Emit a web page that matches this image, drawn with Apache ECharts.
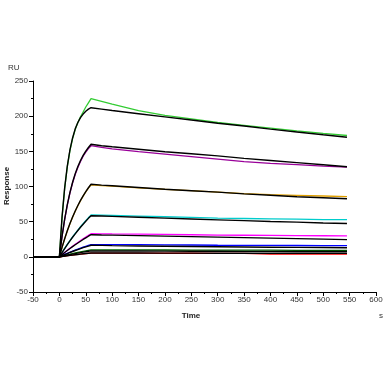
<!DOCTYPE html>
<html>
<head>
<meta charset="utf-8">
<script src="https://cdn.jsdelivr.net/npm/echarts@6/dist/echarts.min.js"></script>
<style>html,body{margin:0;padding:0;background:#fff}#c{width:386px;height:386px}</style>
</head>
<body>
<div id="c"></div>
<script>
// time points (s)
var times = [-50, 0, 5, 10, 15, 20, 25, 30, 35, 40, 45, 50, 55, 60, 80, 100, 150, 200, 250, 300, 350, 400, 450, 500, 545];

// measured curves (RU)
var dataGreen   = [0, 0, 55, 97, 128, 151, 168, 181, 191, 199, 206, 213, 219, 225, 221, 217, 208, 201, 196, 191, 187, 183, 179, 175.5, 172.5];
var dataPurple  = [0, 0, 29, 53, 73.5, 90.5, 105, 117, 127, 135.5, 143, 149, 154, 158, 155.5, 153.5, 149.5, 146, 142.5, 139, 135.5, 133, 131, 129, 127.5];
var dataOrange  = [0, 0, 13.2, 25.5, 36.6, 47, 56.2, 64.8, 72.6, 79.8, 86.4, 92.4, 97.6, 102.5, 101.2, 100.5, 98, 96, 94, 92, 90, 88.5, 87.5, 86.5, 85.5];
var dataCyan    = [0, 0, 6.1, 12, 17.7, 23.1, 28.3, 33.3, 38.1, 42.8, 47.2, 51.5, 55.6, 59.5, 59.3, 59, 58, 57, 56, 55, 54.5, 54, 53.5, 53, 53];
var dataMagenta = [0, 0, 3.2, 6.3, 9.3, 12.3, 15.1, 17.9, 20.5, 23.1, 25.7, 28.1, 30.5, 32.8, 32.7, 32.5, 32.2, 31.8, 31.4, 31, 30.7, 30.4, 30.2, 30, 29.8];
var dataBlue    = [0, 0, 1.7, 3.4, 5, 6.5, 8, 9.6, 11, 12.3, 13.7, 15, 16.3, 17.5, 17.5, 17.5, 17.3, 17, 16.8, 16.5, 16.4, 16.2, 16.1, 16, 16];
var dataDkGreen = [0, 0, 1, 1.9, 2.9, 3.7, 4.6, 5.5, 6.3, 7.1, 7.9, 8.6, 9.3, 10, 10, 9.9, 9.8, 9.7, 9.6, 9.5, 9.4, 9.4, 9.3, 9.2, 9.2];
var dataRed     = [0, 0, 0.5, 1.1, 1.6, 2.1, 2.5, 3, 3.4, 3.9, 4.3, 4.7, 5.1, 5.4, 5.4, 5.3, 5.2, 5.1, 5.1, 5.0, 5.0, 3.9, 3.9, 3.8, 3.8];

// fitted curves (RU)
var fit1 = [0, 0, 56.5, 98, 129, 152, 169, 182, 191, 198, 203, 207, 210, 212, 210, 208, 203.5, 199, 194.5, 190, 186, 181.5, 177.5, 173.5, 170];
var fit2 = [0, 0, 29.2, 53.7, 74.3, 91.6, 106.1, 118.3, 128.5, 137, 144.3, 150.3, 155.4, 160, 158, 156.5, 153, 149.5, 146.5, 143.5, 140, 137, 134, 131, 128];
var fit3 = [0, 0, 13.4, 25.8, 37, 47.3, 56.6, 65.2, 73, 80.2, 86.8, 92.8, 98.2, 103.2, 102, 101, 98.5, 96, 94, 92, 89.5, 87.5, 85.5, 84, 82.5];
var fit4 = [0, 0, 6, 11.8, 17.4, 22.8, 27.8, 32.7, 37.4, 42, 46.4, 50.7, 54.7, 58.5, 58, 57.5, 56.3, 55, 53.8, 52.6, 51.5, 50.3, 49.3, 48.2, 47.3];
var fit5 = [0, 0, 3.1, 6.1, 9, 11.8, 14.5, 17.2, 19.7, 22.2, 24.7, 27, 29.3, 31.5, 31.1, 30.8, 30.1, 29.4, 28.7, 28, 27.3, 26.6, 25.9, 25.2, 24.5];
var fit6 = [0, 0, 1.6, 3.2, 4.7, 6.2, 7.6, 9, 10.3, 11.6, 13, 14.2, 15.3, 16.5, 16.3, 16, 15.5, 15, 14.6, 14.3, 14, 13.7, 13.4, 13.2, 13];
var fit7 = [0, 0, 0.8, 1.6, 2.4, 3.2, 3.9, 4.6, 5.3, 6, 6.7, 7.3, 7.9, 8.5, 8.4, 8.3, 8.2, 8.1, 8, 7.9, 7.8, 7.7, 7.6, 7.5, 7.5];
var fit8 = [0, 0, 0.5, 1.1, 1.6, 2.1, 2.5, 3, 3.4, 3.9, 4.3, 4.7, 5.1, 5.5, 5.5, 5.4, 5.4, 5.3, 5.3, 5.2, 5.2, 5.1, 5.1, 5.0, 5.0];

var xTicks = {min: -50, max: 600, interval: 50};
var yTicks = {min: -50, max: 250, interval: 50};

function pairs(arr) { return times.map(function (t, i) { return [t, arr[i]]; }); }

var measured = [
  [dataGreen, '#33cc33'], [dataPurple, '#990099'], [dataOrange, '#e0a000'],
  [dataCyan, '#00cccc'], [dataMagenta, '#ff00ff'], [dataBlue, '#0000ff'],
  [dataDkGreen, '#006600'], [dataRed, '#ff0000']
];
var fits = [fit1, fit2, fit3, fit4, fit5, fit6, fit7, fit8];

var series = [];
measured.forEach(function (m) {
  series.push({type: 'line', data: pairs(m[0]), showSymbol: false, symbol: 'none',
    lineStyle: {color: m[1], width: 1.3}, silent: true, animation: false});
});
fits.forEach(function (f) {
  series.push({type: 'line', data: pairs(f), showSymbol: false, symbol: 'none',
    lineStyle: {color: '#000', width: 1.4}, silent: true, animation: false});
});

var FF = '"Liberation Sans", Arial, sans-serif';
var labelFont = {fontFamily: FF, fontSize: 8, color: '#333'};

var chart = echarts.init(document.getElementById('c'), null, {renderer: 'canvas'});
chart.setOption({
  animation: false,
  backgroundColor: '#fff',
  grid: {left: 33, right: 10, top: 81, bottom: 94, containLabel: false},
  xAxis: {
    type: 'value', min: xTicks.min, max: xTicks.max, interval: xTicks.interval,
    axisLine: {show: true, onZero: false, lineStyle: {color: '#000', width: 1}},
    axisTick: {show: true, inside: false, length: 4, lineStyle: {color: '#000'}},
    minorTick: {show: true, splitNumber: 2, length: 2, lineStyle: {color: '#000'}},
    splitLine: {show: false},
    axisLabel: Object.assign({margin: 4}, labelFont)
  },
  yAxis: {
    type: 'value', min: yTicks.min, max: yTicks.max, interval: yTicks.interval,
    axisLine: {show: true, onZero: false, lineStyle: {color: '#000', width: 1}},
    axisTick: {show: true, inside: false, length: 4, lineStyle: {color: '#000'}},
    minorTick: {show: true, splitNumber: 2, length: 2, lineStyle: {color: '#000'}},
    splitLine: {show: false},
    axisLabel: Object.assign({margin: 5}, labelFont)
  },
  graphic: [
    {type: 'text', left: 8, top: 64, style: {text: 'RU', font: '8px ' + FF, fill: '#333'}},
    {type: 'text', x: 7, y: 186, rotation: Math.PI / 2,
      style: {text: 'Response', font: 'bold 8px ' + FF, fill: '#222', align: 'center', verticalAlign: 'middle'}},
    {type: 'text', x: 191, y: 316,
      style: {text: 'Time', font: 'bold 8px ' + FF, fill: '#222', align: 'center', verticalAlign: 'middle'}},
    {type: 'text', x: 381, y: 316,
      style: {text: 's', font: '8px ' + FF, fill: '#333', align: 'center', verticalAlign: 'middle'}}
  ],
  series: series
});
</script>
</body>
</html>
